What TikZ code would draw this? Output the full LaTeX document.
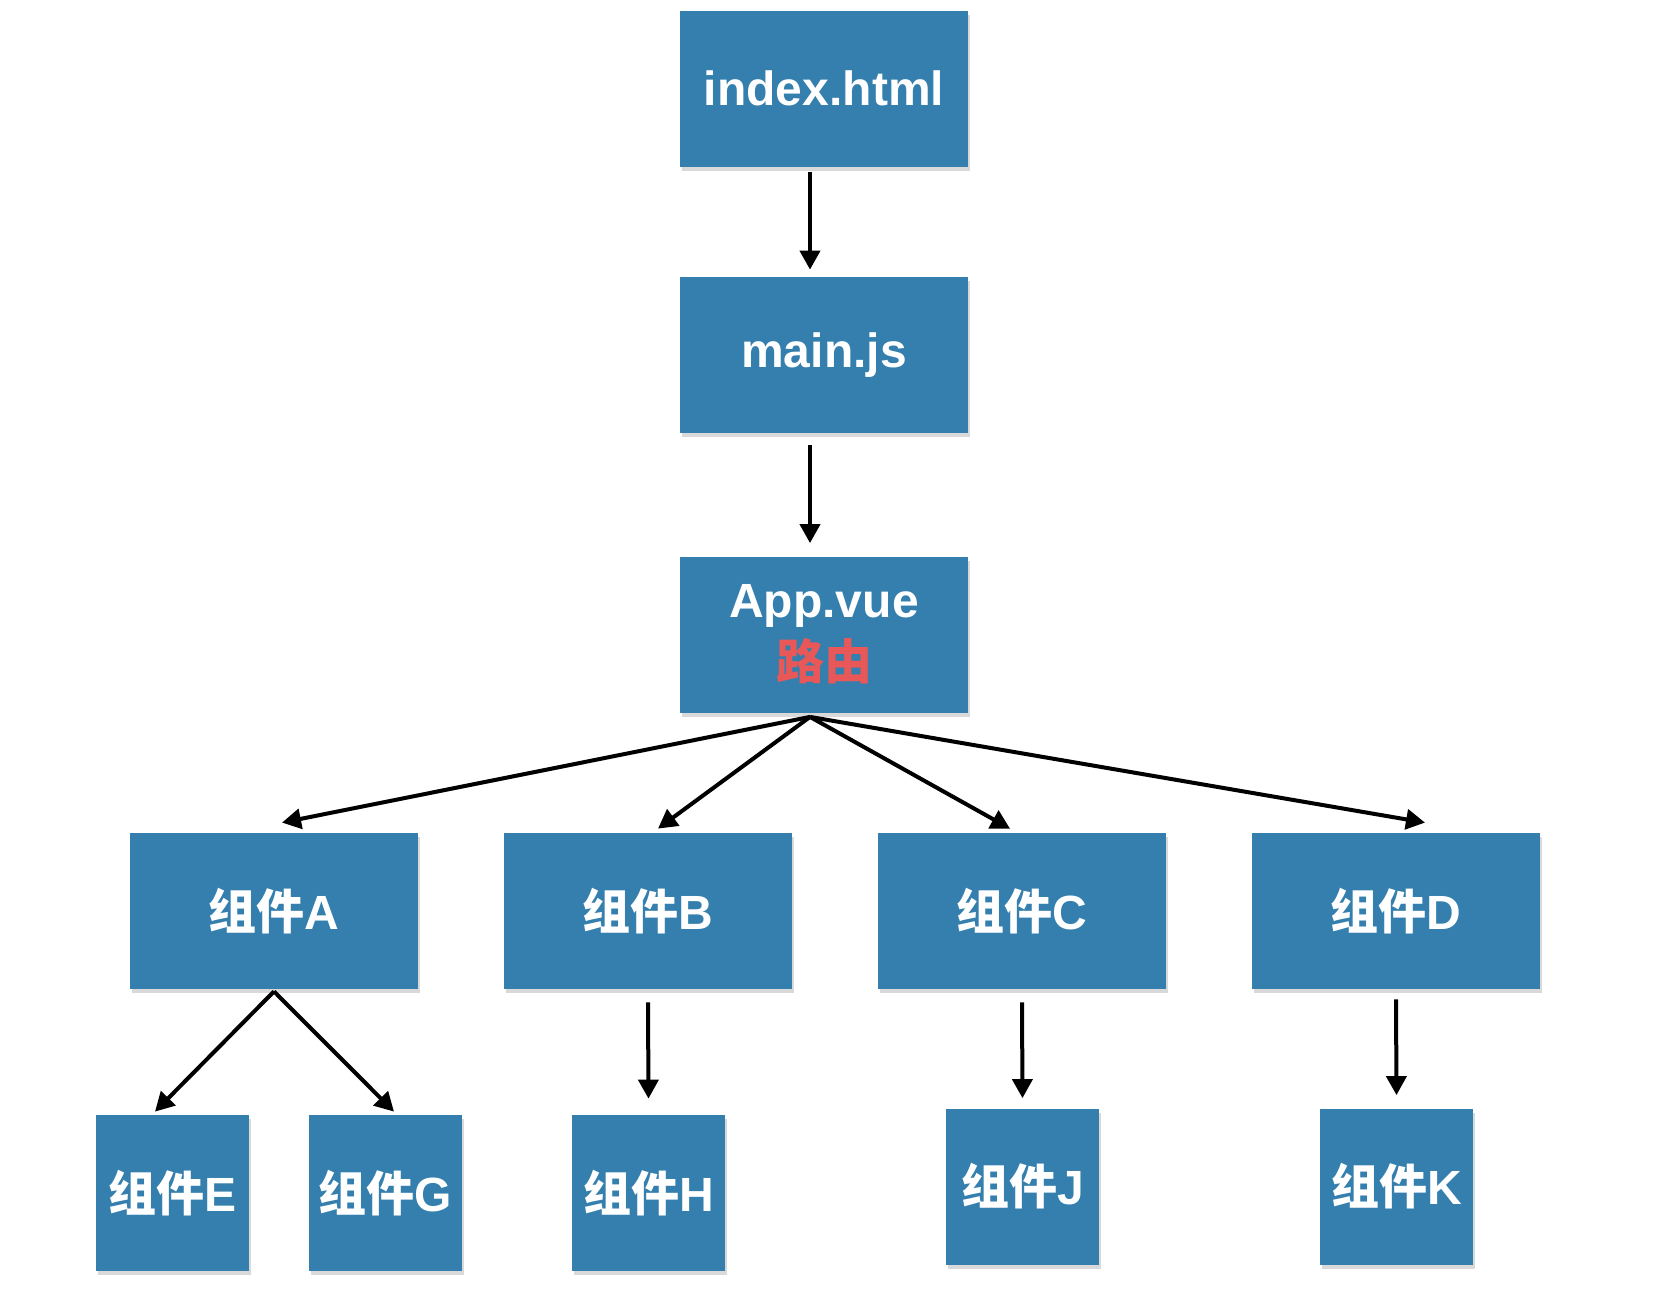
\documentclass[tikz,border=0pt]{standalone}
\usepackage{fontspec}
\setmainfont{Liberation Sans}
\newfontfamily\cjk{Noto Sans CJK SC}
\usetikzlibrary{arrows.meta, shadows}

\definecolor{boxblue}{RGB}{52,127,173}
\definecolor{routered}{RGB}{232,88,88}

\tikzset{
  box/.style={fill=boxblue, text=white, inner sep=0pt,
    font=\fontsize{24}{31}\selectfont\bfseries,
    minimum width=144pt, minimum height=78pt,
    drop shadow={shadow xshift=1pt, shadow yshift=-2pt, opacity=0.3}},
  leaf/.style={box, minimum width=76.5pt},
  arr/.style={line width=2pt, -{Triangle[length=9.5pt, width=10pt]}},
}

\begin{document}
\begin{tikzpicture}[x=0.5pt, y=-0.5pt]
      \useasboundingbox (0, 0) rectangle (1656, 1314);
      % top column
      \node[box] (nidx) at (824, 88.5) {index.html};
      \node[box] (nmain) at (824, 355) {main.js};
      \node[box, align=center] (napp) at (824, 634.5) {App.vue\\{\cjk\color{routered}路由}};
      % components
      \node[box] (nA) at (274, 911) {{\cjk 组件}A};
      \node[box] (nB) at (648, 911) {{\cjk 组件}B};
      \node[box] (nC) at (1022, 911) {{\cjk 组件}C};
      \node[box] (nD) at (1396, 911) {{\cjk 组件}D};
      \node[leaf] (nE) at (172.5, 1193) {{\cjk 组件}E};
      \node[leaf] (nG) at (385, 1193) {{\cjk 组件}G};
      \node[leaf] (nH) at (648.5, 1193) {{\cjk 组件}H};
      \node[leaf] (nJ) at (1022.5, 1186.5) {{\cjk 组件}J};
      \node[leaf] (nK) at (1396.5, 1186.5) {{\cjk 组件}K};
      % arrows
      \path[arr] ([xshift=-7pt, yshift=-2.5pt]nidx.south) edge ([xshift=-7pt, yshift=3.5pt]nmain.north);
      \path[arr] ([xshift=-7pt, yshift=-6pt]nmain.south) edge ([xshift=-7pt, yshift=6.5pt]napp.north);
      \path[arr] ([xshift=-7pt, yshift=-2pt]napp.south)
        edge ([xshift=4pt, yshift=5pt]nA.north)
        edge ([xshift=5pt, yshift=2pt]nB.north)
        edge ([xshift=-6pt, yshift=2pt]nC.north)
        edge ([xshift=14.5pt, yshift=5pt]nD.north);
      \path[arr] ([yshift=-1pt]nA.south)
        edge ([xshift=-8.75pt, yshift=1.5pt]nE.north)
        edge ([xshift=4.5pt, yshift=1.5pt]nG.north);
      \path[arr] ([yshift=-6.5pt]nB.south) edge ([yshift=8pt]nH.north);
      \path[arr] ([yshift=-6.5pt]nC.south) edge ([yshift=5pt]nJ.north);
      \path[arr] ([yshift=-5pt]nD.south) edge ([yshift=6.5pt]nK.north);
    \end{tikzpicture}
\end{document}
